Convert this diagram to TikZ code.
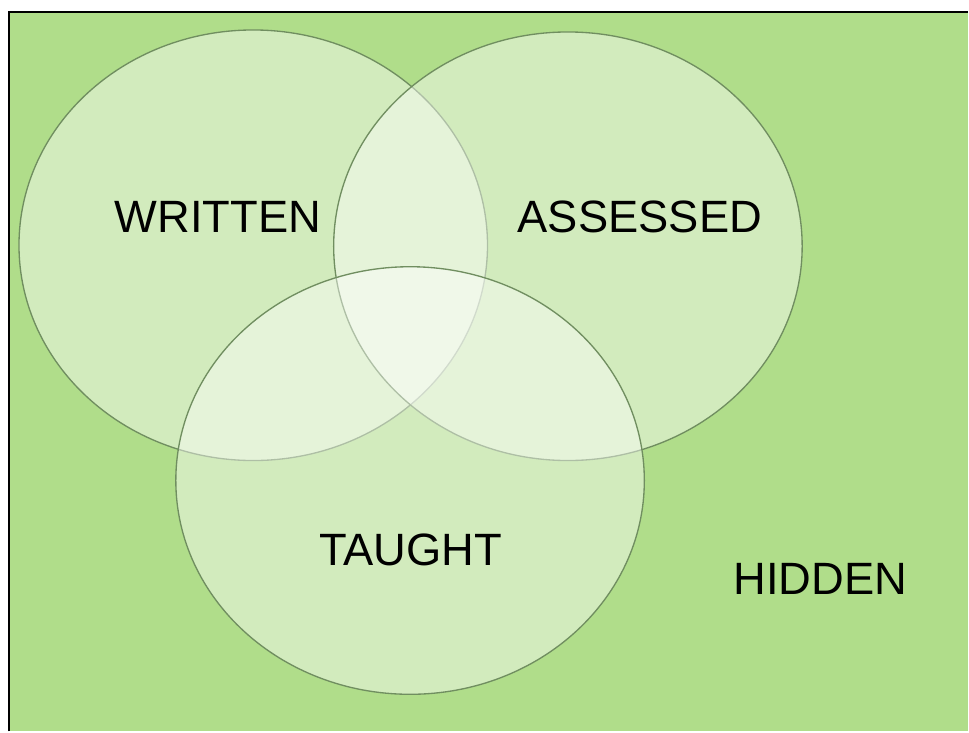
\documentclass[tikz,border=0pt]{standalone}
\usepackage{fontspec}
\setmainfont{Liberation Sans}

\tikzset{every picture/.style={line width=0.75pt}}
\tikzset{vennset/.style={color={rgb, 255:red, 112; green, 142; blue, 96 }, draw opacity=1, line width=1, fill={rgb, 255:red, 255; green, 255; blue, 255 }, fill opacity=0.44},
setlabel/.style={inner sep=0.75pt, font=\fontsize{34}{40}\selectfont}}

\begin{document}
\begin{tikzpicture}[x=0.75pt,y=0.75pt,yscale=-1,xscale=1]
%set diagram left start at 0, and has height of 732
\path (0,0) rectangle (969,732);

%Shape: Rectangle [id:dp1]
\draw [draw opacity=0][fill={rgb, 255:red, 176; green, 221; blue, 138 }, fill opacity=1] (9,12) -- (969,12) -- (969,732) -- (9,732) -- cycle ;
%Straight Lines [id:da1]
\draw [line width=1.5] (9,732) -- (9,12) -- (969,12) ;

%Shape: Ellipse [id:dp2]
\draw [vennset] (253.5,245.5) ellipse (234.5 and 215.5) ;
%Shape: Ellipse [id:dp3]
\draw [vennset] (568.5,246.5) ellipse (234.5 and 214.5) ;
%Shape: Ellipse [id:dp4]
\draw [vennset] (410.5,481) ellipse (234.5 and 214) ;

% Text Node
\draw (218,217.5) node [setlabel] (written) {WRITTEN};
% Text Node
\draw (640.5,217.5) node [setlabel] (assessed) {ASSESSED};
% Text Node
\draw (411,550) node [setlabel] (taught) {TAUGHT};
% Text Node
\draw (821,579.5) node [setlabel] (hidden) {HIDDEN};

\end{tikzpicture}
\end{document}
